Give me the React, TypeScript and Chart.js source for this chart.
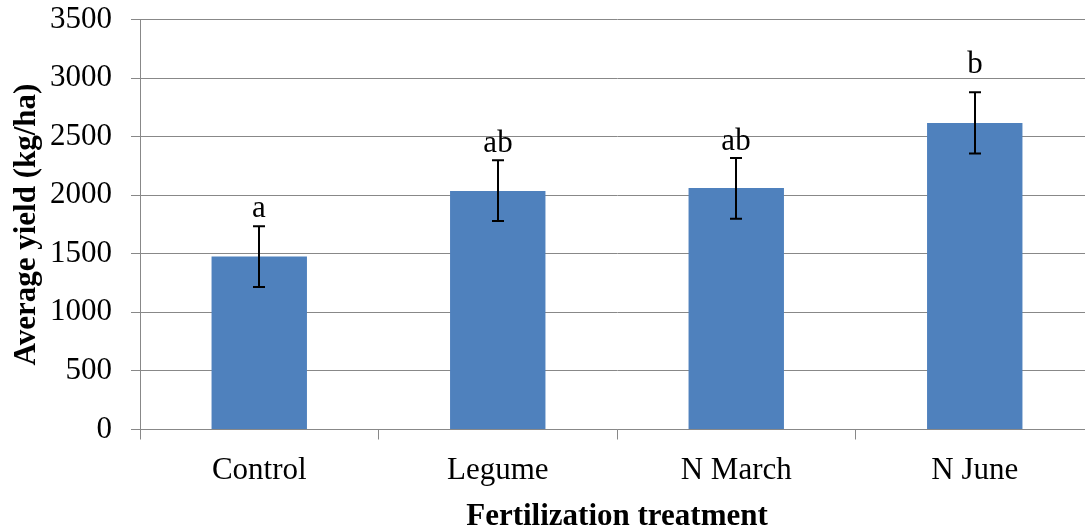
import React, { useEffect, useRef } from "react";
import { Chart, registerables } from "chart.js";

Chart.register(...registerables);

const categories = ["Control", "Legume", "N March", "N June"];
const meanYield = [1476, 2036, 2061, 2617];
const errorLow = [1217, 1780, 1800, 2357];
const errorHigh = [1735, 2298, 2318, 2878];
const groupLetters = ["a", "ab", "ab", "b"];
const yTicks = [0, 500, 1000, 1500, 2000, 2500, 3000, 3500];

const FONT = '"Liberation Serif", "Times New Roman", serif';
const GRID = "#888888";
const LETTER_GAP = [9, 8, 8, 19];

const errorBarPlugin = {
  id: "errorBars",
  afterDatasetsDraw(chart: any) {
    const { ctx, scales } = chart;
    const x = scales.x;
    const y = scales.y;
    ctx.save();
    ctx.strokeStyle = "#000000";
    ctx.fillStyle = "#000000";
    ctx.lineWidth = 2;
    ctx.font = `31px ${FONT}`;
    ctx.textAlign = "center";
    ctx.textBaseline = "alphabetic";
    categories.forEach((_, i) => {
      const px = Math.round(x.getPixelForValue(i));
      const top = y.getPixelForValue(errorHigh[i]);
      const bot = y.getPixelForValue(errorLow[i]);
      ctx.beginPath();
      ctx.moveTo(px, top);
      ctx.lineTo(px, bot);
      ctx.moveTo(px - 6, top);
      ctx.lineTo(px + 6, top);
      ctx.moveTo(px - 6, bot);
      ctx.lineTo(px + 6, bot);
      ctx.stroke();
      ctx.fillText(groupLetters[i], px, top - LETTER_GAP[i]);
    });
    ctx.restore();
  },
};

export default function App() {
  const ref = useRef<HTMLCanvasElement | null>(null);

  useEffect(() => {
    if (!ref.current) return;
    const chart = new Chart(ref.current, {
      type: "bar",
      data: {
        labels: categories,
        datasets: [
          {
            data: meanYield,
            backgroundColor: "#4F81BD",
            borderWidth: 0,
            barPercentage: 0.4,
            categoryPercentage: 1,
          },
        ],
      },
      options: {
        animation: false,
        responsive: false,
        maintainAspectRatio: false,
        devicePixelRatio: 1,
        layout: { padding: { left: 0, right: 6, top: 19.5, bottom: 0 } },
        plugins: {
          legend: { display: false },
          tooltip: { enabled: false },
        },
        scales: {
          x: {
            grid: {
              offset: true,
              drawOnChartArea: false,
              drawTicks: true,
              tickLength: 10,
              color: GRID,
              lineWidth: 1,
            },
            border: { display: true, color: GRID, width: 1 },
            ticks: {
              color: "#000000",
              font: { family: FONT, size: 31 },
              padding: 13,
              maxRotation: 0,
              minRotation: 0,
            },
            title: {
              display: true,
              text: "Fertilization treatment",
              color: "#000000",
              font: { family: FONT, size: 31, weight: "bold", lineHeight: 1 },
              padding: { top: 0, bottom: 0 },
            },
            afterFit: (s: any) => {
              s.height = 102.5;
              s.paddingLeft = 0;
              s.paddingRight = 0;
            },
          },
          y: {
            min: 0,
            max: 3500,
            grid: {
              color: GRID,
              lineWidth: 1,
              drawTicks: true,
              tickLength: 9,
            },
            border: { display: true, color: GRID, width: 1 },
            ticks: {
              color: "#000000",
              font: { family: FONT, size: 31 },
              padding: 19,
              callback: (v: any) => String(v),
            },
            afterBuildTicks: (s: any) => {
              s.ticks = yTicks.map((v) => ({ value: v }));
            },
            title: {
              display: true,
              text: "Average yield (kg/ha)",
              color: "#000000",
              font: { family: FONT, size: 31, weight: "bold" },
              padding: { top: 8, bottom: 0 },
            },
            afterFit: (s: any) => {
              s.width = 140;
              s.paddingTop = 0;
              s.paddingBottom = 0;
            },
          },
        },
      },
      plugins: [errorBarPlugin],
    });
    return () => chart.destroy();
  }, []);

  return (
    <div
      style={{
        position: "fixed",
        left: 0,
        top: 0,
        width: 1085,
        height: 529,
        overflow: "hidden",
        background: "#ffffff",
      }}
    >
      <canvas
        ref={ref}
        width={1100}
        height={532}
        style={{ width: 1100, height: 532, display: "block" }}
      />
    </div>
  );
}
